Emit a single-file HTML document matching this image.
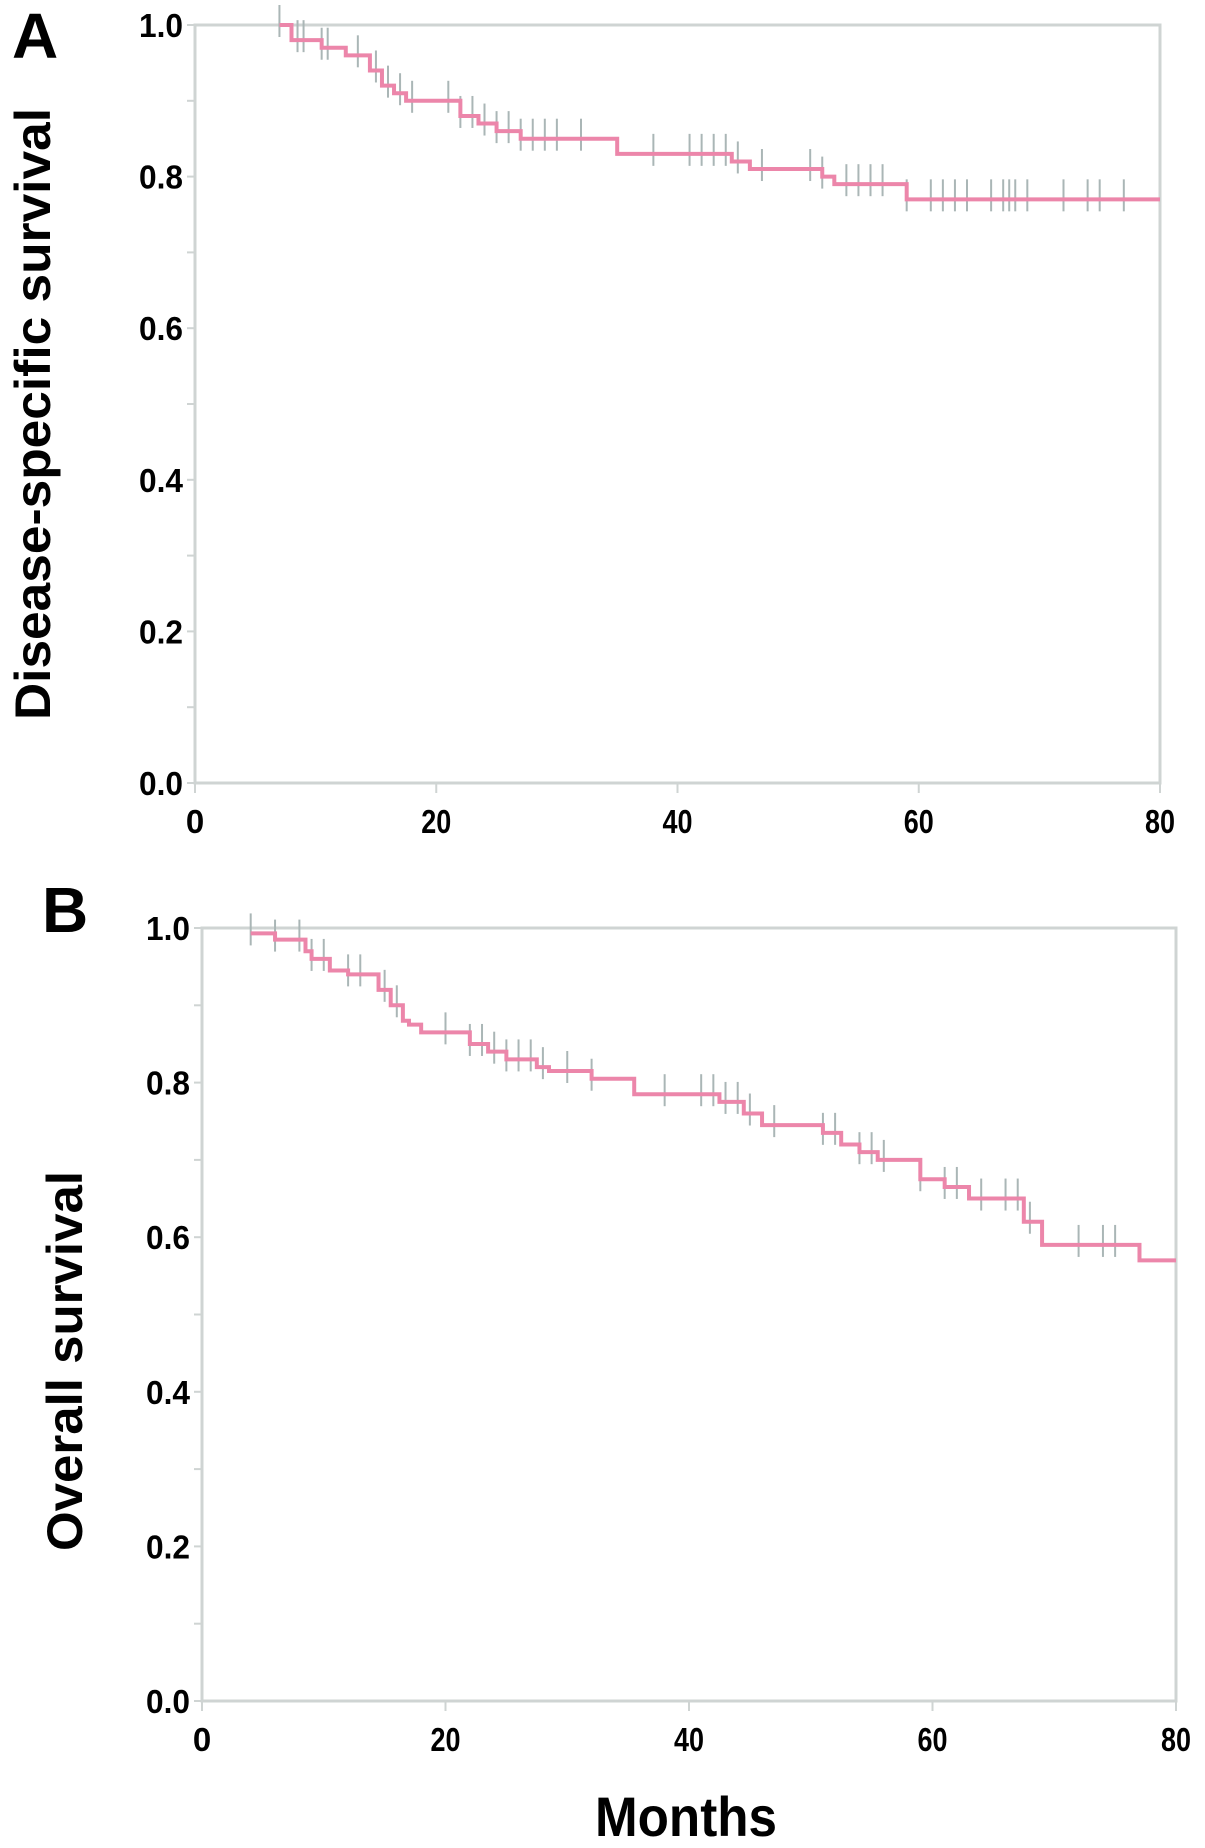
<!DOCTYPE html>
<html><head><meta charset="utf-8">
<style>
html,body{margin:0;padding:0;background:#fff;}
svg{display:block;font-family:"Liberation Sans",Arial,sans-serif;}
</style></head>
<body>
<svg id="fig" width="1205" height="1848" viewBox="0 0 1205 1848" xmlns="http://www.w3.org/2000/svg">
<text x="12" y="58" font-size="64" font-weight="bold">A</text>
<text x="42" y="932" font-size="64" font-weight="bold">B</text>
<text transform="translate(50,414) rotate(-90)" text-anchor="middle" font-size="50" font-weight="bold" textLength="612" lengthAdjust="spacingAndGlyphs">Disease-specific survival</text>
<text transform="translate(82,1361) rotate(-90)" text-anchor="middle" font-size="50" font-weight="bold" textLength="380" lengthAdjust="spacingAndGlyphs">Overall survival</text>
<text x="686" y="1836" text-anchor="middle" font-size="56" font-weight="bold" textLength="182" lengthAdjust="spacingAndGlyphs">Months</text>
</svg>
<script>
// Panel A: disease-specific survival (step times and survival values)
const dssTimes = [7, 8, 10.5, 12.5, 14.5, 15.5, 16.5, 17.5, 22, 23.5, 25, 27, 35, 44.5, 46, 52, 53, 59, 80];
const dssValues = [1.0, 0.98, 0.97, 0.96, 0.94, 0.92, 0.91, 0.90, 0.88, 0.87, 0.86, 0.85, 0.83, 0.82, 0.81, 0.80, 0.79, 0.77, 0.77];
const dssCensor = [7, 8.5, 9, 10.5, 11, 13.5, 15, 16, 17, 18, 21, 22, 23, 24, 25, 26, 27, 28, 29, 30, 32, 38, 41, 42, 43, 44, 45, 47, 51, 52, 54, 55, 56, 57, 59, 61, 62, 63, 64, 66, 67, 67.5, 68, 69, 72, 74, 75, 77];
// Panel B: overall survival
const osTimes = [4, 6, 8.5, 9, 10.5, 12, 14.5, 15.5, 16.5, 17, 18, 22, 23.5, 25, 27.5, 28.5, 32, 35.5, 42.5, 44.5, 46, 51, 52.5, 54, 55.5, 59, 61, 63, 67.5, 69, 77, 80];
const osValues = [0.993, 0.985, 0.97, 0.96, 0.945, 0.94, 0.92, 0.90, 0.88, 0.875, 0.865, 0.85, 0.84, 0.83, 0.82, 0.815, 0.805, 0.785, 0.775, 0.76, 0.745, 0.735, 0.72, 0.71, 0.70, 0.675, 0.665, 0.65, 0.62, 0.59, 0.57, 0.57];
const osCensor = [4, 6, 8, 9, 10, 12, 13, 15, 16, 20, 22, 23, 24, 25, 26, 27, 28, 30, 32, 38, 41, 42, 43, 44, 45, 47, 51, 52, 54, 55, 56, 59, 61, 62, 64, 66, 67, 68, 72, 74, 75];
const xTicks = [0, 20, 40, 60, 80];
const xTickLabels = ["0", "20", "40", "60", "80"];
const yTicks = [0, 0.2, 0.4, 0.6, 0.8, 1.0];
const yTickLabels = ["0.0", "0.2", "0.4", "0.6", "0.8", "1.0"];

const NS = "http://www.w3.org/2000/svg";
const svg = document.getElementById('fig');
function mk(tag, attrs, parent) {
  const e = document.createElementNS(NS, tag);
  for (const k in attrs) e.setAttribute(k, attrs[k]);
  (parent || svg).appendChild(e);
  return e;
}
function panel(id, L, R, T, B, times, values, censor) {
  const g = mk('g', {});
  
  
  const sx = v => L + (R - L) * v / 80;
  const sy = v => B - (B - T) * v;
  const frame = mk('rect', {x: L, y: T, width: R - L, height: B - T, fill: 'none', stroke: '#cfd4d3', 'stroke-width': 3}, g);
  
  
  for (let v = 0; v <= 1.0001; v += 0.1) {
    const t = mk('line', {x1: L - 8, x2: L, y1: sy(v), y2: sy(v), stroke: '#cfd4d3', 'stroke-width': 2}, g);
    
    
  }
  yTicks.forEach((v, i) => {
    const t = mk('text', {x: L - 12, y: sy(v) + 12, 'text-anchor': 'end', 'font-size': 33, 'font-weight': 'bold', textLength: 44, lengthAdjust: 'spacingAndGlyphs'}, g);
    t.textContent = yTickLabels[i];
    
    
  });
  xTicks.forEach((v, i) => {
    const tk = mk('line', {x1: sx(v), x2: sx(v), y1: B, y2: B + 10, stroke: '#cfd4d3', 'stroke-width': 2}, g);
    
    
    const attrs = {x: sx(v), y: B + 50, 'text-anchor': 'middle', 'font-size': 33, 'font-weight': 'bold'};
    if (xTickLabels[i].length > 1) { attrs.textLength = 30; attrs.lengthAdjust = 'spacingAndGlyphs'; }
    const t = mk('text', attrs, g);
    t.textContent = xTickLabels[i];
    
    
  });
  function survAt(t) {
    let s = values[0];
    for (let i = 0; i < times.length; i++) if (times[i] <= t) s = values[i];
    return s;
  }
  censor.forEach(c => {
    const s = survAt(c);
    const m = mk('line', {x1: sx(c), x2: sx(c), y1: sy(s) - 20, y2: sy(s) + 12, stroke: '#aab6b6', 'stroke-width': 2}, g);
    
    
  });
  let d = 'M' + sx(times[0]) + ' ' + sy(values[0]);
  for (let i = 1; i < times.length; i++) {
    d += ' H' + sx(times[i]) + ' V' + sy(values[i]);
  }
  const p = mk('path', {d: d, fill: 'none', stroke: '#ec86aa', 'stroke-width': 4}, g);
  
  
}
panel('dss', 195, 1160, 25, 783, dssTimes, dssValues, dssCensor);
panel('os', 202, 1176, 928, 1701, osTimes, osValues, osCensor);
</script>
</body></html>
